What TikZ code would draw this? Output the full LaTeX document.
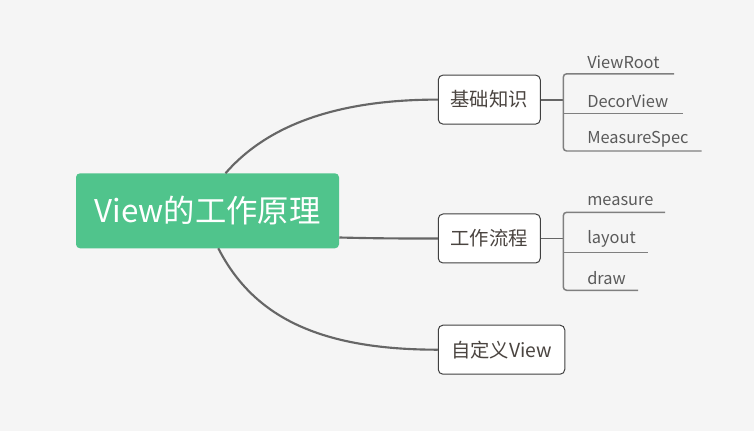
\documentclass[tikz,border=0pt]{standalone}
\usepackage{fontspec}
\setmainfont{Noto Sans CJK SC}
\definecolor{bg}{HTML}{F5F5F5}
\definecolor{rootgreen}{RGB}{80,196,140}
\definecolor{linegray}{HTML}{666666}
\definecolor{leafline}{HTML}{7F7F7F}
\definecolor{boxtext}{HTML}{4A4440}
\definecolor{leaftext}{HTML}{5A5A5A}
\begin{document}
\begin{tikzpicture}[x=0.75pt,y=-0.75pt,
  rootbox/.style={fill=rootgreen,draw=none,rounded corners=3pt,text=white,font=\fontsize{23.5}{26}\selectfont,minimum width=263*0.75pt,minimum height=75*0.75pt,inner sep=0pt},
  topic/.style={fill=white,draw=black!75,line width=0.75pt,rounded corners=3.5pt,text=boxtext,font=\fontsize{14.5}{16}\selectfont,minimum height=49*0.75pt,inner sep=0pt},
  leaf/.style={text=leaftext,font=\fontsize{12.3}{14}\selectfont,inner sep=0pt,anchor=west},
  branch/.style={draw=linegray,line width=1.6pt},
  leafline/.style={draw=leafline,line width=1.1pt}]
\fill[bg] (0,0) rectangle (754,431);
\useasboundingbox (0,0) rectangle (754,431);

% nodes
\node[rootbox] (root) at (207.5,210.8) {View的工作原理};
\node[topic,minimum width=102*0.75pt] (t1) at (489.3,99.6) {基础知识};
\node[topic,minimum width=102*0.75pt] (t2) at (489.3,238.5) {工作流程};
\node[topic,minimum width=126.5*0.75pt] (t3) at (501.5,349.7) {自定义View};

% main branches
\coordinate (r1) at (225.5,173.3);
\coordinate (r3) at (218.3,248.3);
\draw[branch] (r1) .. controls (268.3,124) and (339.3,99.6) .. (t1.west);
\draw[branch] (root.east |- 0,237.5) .. controls (380,238.5) and (400,238.5) .. (t2.west);
\draw[branch] (r3) .. controls (253,316) and (318,349.7) .. (t3.west);

% leaves of t1
\node[leaf] (l11) at (587,62.7) {ViewRoot};
\node[leaf] (l12) at (587,101.7) {DecorView};
\node[leaf] (l13) at (587,139.3) {MeasureSpec};
\coordinate (b1) at (563.3,99.6);
\draw[branch,line width=1.4pt] (t1.east) -- (b1);
\draw[leafline,rounded corners=2.5pt] (674,73.8) -- (563.3,73.8) -- (563.3,151) -- (701.7,151);
\draw[leafline] (563.3,113.3) -- (682.7,113.3);

% leaves of t2
\node[leaf] (l21) at (587,201) {measure};
\node[leaf] (l22) at (587,239) {layout};
\node[leaf] (l23) at (587,277.7) {draw};
\coordinate (b2) at (563.3,238.5);
\draw[branch,line width=1.4pt] (t2.east) -- (b2);
\draw[leafline,rounded corners=2.5pt] (665,212.3) -- (563.3,212.3) -- (563.3,290.3) -- (638,290.3);
\draw[leafline] (563.3,252.7) -- (648,252.7);
\end{tikzpicture}
\end{document}
